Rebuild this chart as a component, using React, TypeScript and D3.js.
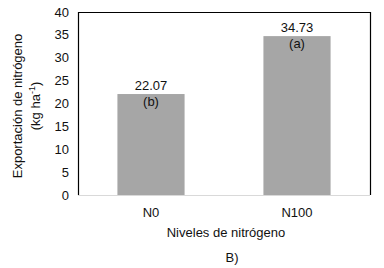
import React from "react";
import * as d3 from "d3";

const categories = ["N0", "N100"];
const values = [22.07, 34.73];
const letters = ["(b)", "(a)"];
const yTicks = [0, 5, 10, 15, 20, 25, 30, 35, 40];

const W = 384;
const H = 268;
const M = { left: 78, top: 12, right: 370, bottom: 195 };
const FONT = "'Liberation Sans', Arial, sans-serif";

export default function App() {
  const x = d3
    .scaleBand<string>()
    .domain(categories)
    .range([M.left, M.right])
    .paddingInner(0.54)
    .paddingOuter(0.27);
  const y = d3.scaleLinear().domain([0, 40]).range([M.bottom, M.top]);

  return (
    <svg
      width={W}
      height={H}
      style={{ position: "absolute", left: 0, top: 0, background: "#fff" }}
      fontFamily={FONT}
    >
      <rect x={0} y={0} width={W} height={H} fill="#fff" />
      {/* frame */}
      <path
        d={`M${M.left + 0.5},${M.bottom}V${M.top + 0.5}H${M.right + 0.5}V${M.bottom}`}
        fill="none"
        stroke="#000"
        strokeWidth={1.2}
      />
      {/* bars */}
      {categories.map((c, i) => (
        <g key={c}>
          <rect
            x={x(c)}
            y={y(values[i])}
            width={x.bandwidth()}
            height={y(0) - y(values[i])}
            fill="#a6a6a6"
          />
          <text
            x={x(c)! + x.bandwidth() / 2}
            y={y(values[i]) - 4}
            textAnchor="middle"
            fontSize={13}
            fill="#111"
          >
            {values[i].toFixed(2)}
          </text>
          <text
            x={x(c)! + x.bandwidth() / 2}
            y={y(values[i]) + 12}
            textAnchor="middle"
            fontSize={13}
            fill="#111"
          >
            {letters[i]}
          </text>
          <text
            x={x(c)! + x.bandwidth() / 2}
            y={M.bottom + 22}
            textAnchor="middle"
            fontSize={13}
            fill="#111"
          >
            {c}
          </text>
        </g>
      ))}
      {/* x axis line */}
      <line
        x1={M.left}
        x2={M.right}
        y1={M.bottom + 0.5}
        y2={M.bottom + 0.5}
        stroke="#d9d9d9"
        strokeWidth={1.2}
      />
      {/* y ticks */}
      {yTicks.map((t) => (
        <text
          key={t}
          x={69}
          y={y(t)}
          dy="0.35em"
          textAnchor="end"
          fontSize={13}
          fill="#111"
        >
          {t}
        </text>
      ))}
      {/* y title */}
      <g transform={`translate(0,106) rotate(-90)`}>
        <text x={0} y={22} textAnchor="middle" fontSize={13} fill="#111">
          Exportación de nitrógeno
        </text>
        <text x={0} y={40} textAnchor="middle" fontSize={13} fill="#111">
          (kg ha
          <tspan dy={-5} fontSize={9}>
            -1
          </tspan>
          <tspan dy={5}>)</tspan>
        </text>
      </g>
      <text x={226} y={237} textAnchor="middle" fontSize={13} fill="#111">
        Niveles de nitrógeno
      </text>
      <text x={232} y={262} textAnchor="middle" fontSize={13} fill="#111">
        B)
      </text>
    </svg>
  );
}
